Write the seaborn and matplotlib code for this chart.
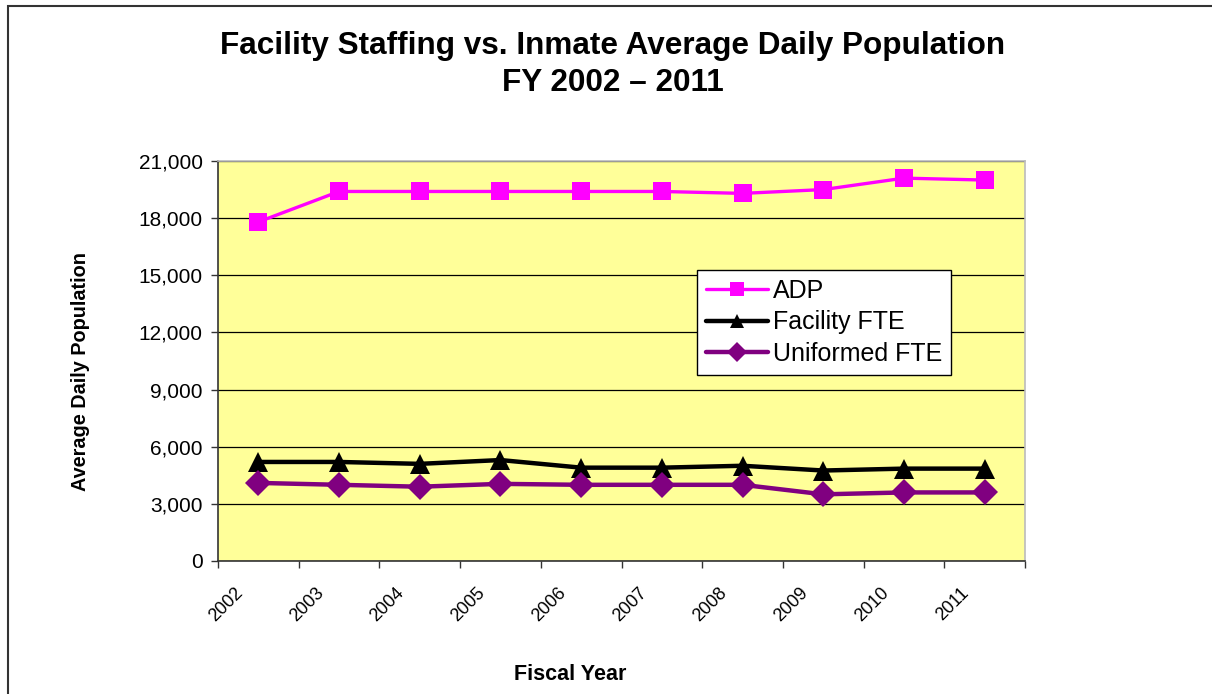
import seaborn as sns
import matplotlib.pyplot as plt
import matplotlib.transforms as mtransforms
from matplotlib.patches import Rectangle
from matplotlib.ticker import FuncFormatter, FixedLocator
import pandas as pd

sns.set_style('white')
plt.rcParams['font.family'] = ['Liberation Sans', 'DejaVu Sans']
plt.rcParams['text.color'] = 'black'
plt.rcParams['xtick.color'] = 'black'
plt.rcParams['ytick.color'] = 'black'

# data
years = ['2002', '2003', '2004', '2005', '2006', '2007', '2008', '2009', '2010', '2011']
adp = [17800, 19400, 19400, 19400, 19400, 19400, 19300, 19500, 20100, 20000]
facility_fte = [5200, 5200, 5100, 5300, 4900, 4900, 5000, 4750, 4850, 4850]
uniformed_fte = [4100, 4000, 3900, 4050, 4000, 4000, 4000, 3500, 3600, 3600]

df = pd.DataFrame({'pos': range(len(years)), 'year': years,
                   'ADP': adp, 'Facility FTE': facility_fte,
                   'Uniformed FTE': uniformed_fte})

fig = plt.figure(figsize=(12.12, 6.94), dpi=100)
ax = fig.add_axes([218/1212, 133/694, 807/1212, 400/694])
ax.set_facecolor('#FFFF99')

# series styles: (colour, marker, linewidth, markersize)
styles = {'ADP': ('#FF00FF', 's', 2.4, 13),
          'Facility FTE': ('black', '^', 3.2, 14),
          'Uniformed FTE': ('#800080', 'D', 3.2, 13)}
for name, (c, m, lw, ms) in styles.items():
    sns.lineplot(data=df, x='pos', y=name, ax=ax, color=c, marker=m,
                 linewidth=lw, markersize=ms, markeredgewidth=0,
                 label=name, zorder=3)

ax.set_xlim(-0.5, len(years) - 0.5)
ax.set_ylim(0, 21000)
ax.set_yticks(range(0, 21001, 3000))
ax.yaxis.set_major_formatter(FuncFormatter(lambda v, p: f'{int(v):,}'))
ax.grid(axis='y', color='black', linewidth=0.9)
ax.set_axisbelow(True)

ax.set_xticks(range(len(years)))
ax.set_xticklabels(years)
ax.xaxis.set_minor_locator(FixedLocator([i - 0.5 for i in range(len(years) + 1)]))
ax.tick_params(axis='x', which='major', length=0, pad=21, labelsize=13)
ax.tick_params(axis='x', which='minor', length=5, width=1, color='#333333',
               direction='out', bottom=True)
ax.tick_params(axis='y', length=5, width=1, color='#333333', direction='out',
               left=True, labelsize=15, pad=6)
shift = mtransforms.ScaledTranslation(-18/100, 0, fig.dpi_scale_trans)
for lbl in ax.get_xticklabels():
    lbl.set_rotation(45)
    lbl.set_rotation_mode('anchor')
    lbl.set_ha('right')
    lbl.set_va('center')
    lbl.set_transform(lbl.get_transform() + shift)

for side in ['left', 'bottom']:
    ax.spines[side].set_color('#333333')
    ax.spines[side].set_linewidth(1.2)
for side in ['top', 'right']:
    ax.spines[side].set_color('#BBBBBB')
    ax.spines[side].set_linewidth(1.2)

ax.set_xlabel('')
ax.set_ylabel('')
fig.text(81/1212, 1 - 371/694, 'Average Daily Population', rotation=90,
         ha='center', va='center', fontsize=14.3, fontweight='bold')
fig.text(570/1212, 1 - 675/694, 'Fiscal Year', ha='center', va='center',
         fontsize=15.5, fontweight='bold')
fig.text(613/1212, 1 - 46/694, 'Facility Staffing vs. Inmate Average Daily Population',
         ha='center', va='center', fontsize=22.7, fontweight='bold')
fig.text(613/1212, 1 - 83/694, 'FY 2002 \u2013 2011',
         ha='center', va='center', fontsize=22.7, fontweight='bold')

leg = ax.legend(loc='upper left', bbox_to_anchor=((697-218)/807, (561-270)/400),
                fontsize=18, frameon=True, fancybox=False, handlelength=2.5,
                handletextpad=0.2, borderpad=0.35, labelspacing=0.3,
                borderaxespad=0, markerscale=0.75)
leg.get_frame().set_edgecolor('black')
leg.get_frame().set_linewidth(1)
leg.get_frame().set_facecolor('white')
leg.get_frame().set_alpha(1)

fig.patches.append(Rectangle((8/1212, -0.1), 1.2, 1.1 - 6/694,
                             transform=fig.transFigure, fill=False,
                             edgecolor='#333333', linewidth=1.5))

fig.savefig('out.png', dpi=100)
